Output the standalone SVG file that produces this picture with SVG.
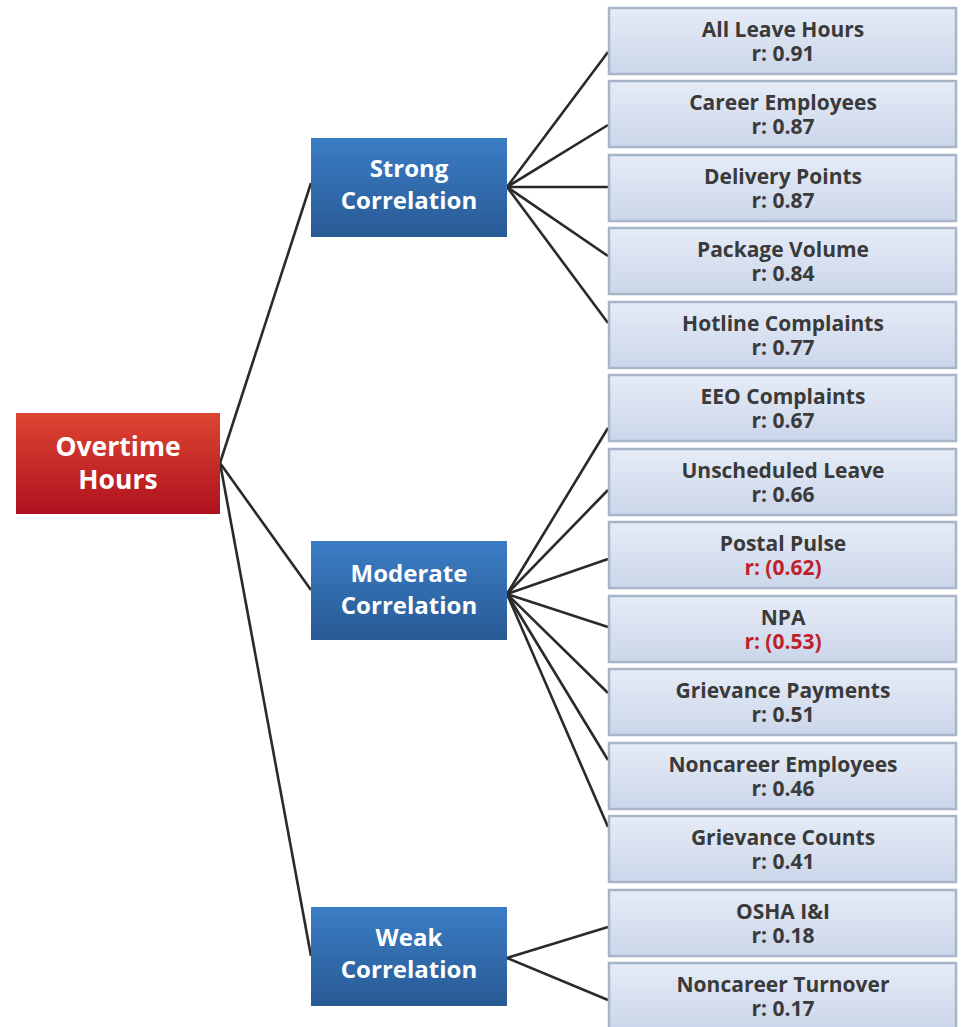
<svg xmlns="http://www.w3.org/2000/svg" width="963" height="1027" viewBox="0 0 963 1027">
<defs>
<linearGradient id="gRed" x1="0" y1="0" x2="0" y2="1"><stop offset="0" stop-color="#dd4631"/><stop offset="1" stop-color="#af111f"/></linearGradient>
<linearGradient id="gBlue" x1="0" y1="0" x2="0" y2="1"><stop offset="0" stop-color="#3b7dc5"/><stop offset="1" stop-color="#285a94"/></linearGradient>
<linearGradient id="gLeaf" x1="0" y1="0" x2="0" y2="1"><stop offset="0" stop-color="#e6ecf7"/><stop offset="1" stop-color="#cbd6ea"/></linearGradient>
<style>
.leaf rect{fill:url(#gLeaf);stroke:#a8b4c8;stroke-width:2.5}
.leaf text{font-family:"Open Sans","Liberation Sans",sans-serif;font-weight:700;font-size:21px;fill:#3a3a3a;text-anchor:middle}
.leaf text.neg{fill:#c01f2c}
.branch rect{fill:url(#gBlue)}
.root rect{fill:url(#gRed)}
.hdr{font-family:"Open Sans","Liberation Sans",sans-serif;font-weight:700;font-size:24px;fill:#ffffff;text-anchor:middle}
.root .hdr{font-size:26.5px}
#connectors line{stroke:#2a2a2a;stroke-width:2.6}
</style>
</defs>
<g id="connectors">
<line x1="220" y1="463" x2="311" y2="183"/>
<line x1="220" y1="463" x2="311" y2="590"/>
<line x1="220" y1="463" x2="311" y2="956"/>
<line x1="507" y1="187" x2="608" y2="52"/>
<line x1="507" y1="187" x2="608" y2="125"/>
<line x1="507" y1="187" x2="608" y2="187"/>
<line x1="507" y1="187" x2="608" y2="256"/>
<line x1="507" y1="187" x2="608" y2="323"/>
<line x1="507" y1="594" x2="608" y2="428"/>
<line x1="507" y1="594" x2="608" y2="490"/>
<line x1="507" y1="594" x2="608" y2="559"/>
<line x1="507" y1="594" x2="608" y2="627"/>
<line x1="507" y1="594" x2="608" y2="693"/>
<line x1="507" y1="594" x2="608" y2="760"/>
<line x1="507" y1="594" x2="608" y2="827"/>
<line x1="507" y1="958" x2="608" y2="927"/>
<line x1="507" y1="958" x2="608" y2="1000"/>
</g>
<g id="root" class="root"><rect x="16" y="413" width="204" height="101"/><text class="hdr" x="118" y="456">Overtime</text><text class="hdr" x="118" y="489">Hours</text></g>
<g id="strong" class="branch"><rect x="311" y="138" width="196" height="99"/><text class="hdr" x="409" y="177">Strong</text><text class="hdr" x="409" y="209">Correlation</text></g>
<g id="moderate" class="branch"><rect x="311" y="541" width="196" height="99"/><text class="hdr" x="409" y="582">Moderate</text><text class="hdr" x="409" y="614">Correlation</text></g>
<g id="weak" class="branch"><rect x="311" y="907" width="196" height="99"/><text class="hdr" x="409" y="946">Weak</text><text class="hdr" x="409" y="978">Correlation</text></g>
<g id="leaf1" class="leaf"><rect x="609" y="8" width="347" height="66"/><text x="783" y="37">All Leave Hours</text><text x="783" y="61">r: 0.91</text></g>
<g id="leaf2" class="leaf"><rect x="609" y="81" width="347" height="66"/><text x="783" y="110">Career Employees</text><text x="783" y="134">r: 0.87</text></g>
<g id="leaf3" class="leaf"><rect x="609" y="155" width="347" height="66"/><text x="783" y="184">Delivery Points</text><text x="783" y="208">r: 0.87</text></g>
<g id="leaf4" class="leaf"><rect x="609" y="228" width="347" height="66"/><text x="783" y="257">Package Volume</text><text x="783" y="281">r: 0.84</text></g>
<g id="leaf5" class="leaf"><rect x="609" y="302" width="347" height="66"/><text x="783" y="331">Hotline Complaints</text><text x="783" y="355">r: 0.77</text></g>
<g id="leaf6" class="leaf"><rect x="609" y="375" width="347" height="66"/><text x="783" y="404">EEO Complaints</text><text x="783" y="428">r: 0.67</text></g>
<g id="leaf7" class="leaf"><rect x="609" y="449" width="347" height="66"/><text x="783" y="478">Unscheduled Leave</text><text x="783" y="502">r: 0.66</text></g>
<g id="leaf8" class="leaf"><rect x="609" y="522" width="347" height="66"/><text x="783" y="551">Postal Pulse</text><text class="neg" x="783" y="575">r: (0.62)</text></g>
<g id="leaf9" class="leaf"><rect x="609" y="596" width="347" height="66"/><text x="783" y="625">NPA</text><text class="neg" x="783" y="649">r: (0.53)</text></g>
<g id="leaf10" class="leaf"><rect x="609" y="669" width="347" height="66"/><text x="783" y="698">Grievance Payments</text><text x="783" y="722">r: 0.51</text></g>
<g id="leaf11" class="leaf"><rect x="609" y="743" width="347" height="66"/><text x="783" y="772">Noncareer Employees</text><text x="783" y="796">r: 0.46</text></g>
<g id="leaf12" class="leaf"><rect x="609" y="816" width="347" height="66"/><text x="783" y="845">Grievance Counts</text><text x="783" y="869">r: 0.41</text></g>
<g id="leaf13" class="leaf"><rect x="609" y="890" width="347" height="66"/><text x="783" y="919">OSHA I&amp;I</text><text x="783" y="943">r: 0.18</text></g>
<g id="leaf14" class="leaf"><rect x="609" y="963" width="347" height="66"/><text x="783" y="992">Noncareer Turnover</text><text x="783" y="1016">r: 0.17</text></g>
</svg>
